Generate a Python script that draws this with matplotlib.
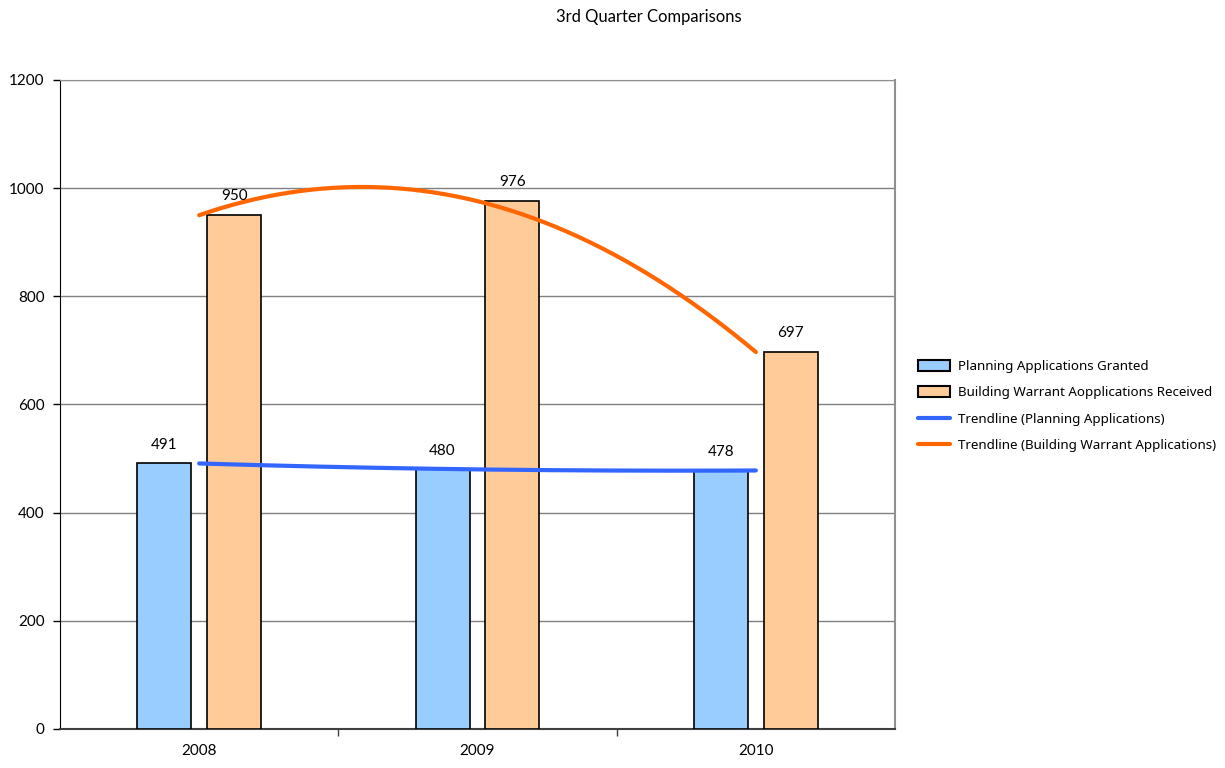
import numpy as np
import matplotlib
matplotlib.use("Agg")
from matplotlib import pyplot as plt
from matplotlib.patches import Patch
from matplotlib.lines import Line2D

years = ["2008", "2009", "2010"]
planning = [491, 480, 478]
warrants = [950, 976, 697]

label_font = ["Lato", "DejaVu Sans"]
legend_font = ["Noto Sans", "DejaVu Sans"]

fig = plt.figure(figsize=(12.25, 7.68), dpi=100)
ax = fig.add_axes([60 / 1225, 1 - 729 / 768, 835 / 1225, 649 / 768])

x = np.arange(len(years))
width = 0.194
off = 0.1255

ax.bar(x - off, planning, width, color="#99CCFF", edgecolor="black", linewidth=1.2, zorder=3)
ax.bar(x + off, warrants, width, color="#FFCC99", edgecolor="black", linewidth=1.2, zorder=3)

for xi, v in zip(x - off, planning):
    ax.text(xi, v + 22, str(v), ha="center", va="bottom", fontsize=11, family=label_font, zorder=5)
for xi, v in zip(x + off, warrants):
    ax.text(xi, v + 22, str(v), ha="center", va="bottom", fontsize=11, family=label_font, zorder=5)

# second order polynomial trendlines through each series
xs = np.linspace(0, 2, 200)
p_fit = np.polyval(np.polyfit(x, planning, 2), xs)
w_fit = np.polyval(np.polyfit(x, warrants, 2), xs)
ax.plot(xs, p_fit, color="#3366FF", linewidth=3, solid_capstyle="round", zorder=4)
ax.plot(xs, w_fit, color="#FF6600", linewidth=3, solid_capstyle="round", zorder=4)

ax.set_xlim(-0.5, 2.5)
ax.set_ylim(0, 1200)
ax.set_yticks(range(0, 1201, 200))
ax.set_xticks([0.5, 1.5])
ax.set_xticklabels([])
ax.tick_params(axis="x", length=5, width=1, direction="out", color="#404040")
ax.tick_params(axis="y", length=5, width=1, direction="out", color="black", pad=6)
for lab in ax.get_yticklabels():
    lab.set_family(label_font)
    lab.set_fontsize(11)
for xi, yr in zip(x, years):
    ax.text(xi, -40, yr, ha="center", va="center", fontsize=11, family=label_font)

ax.yaxis.grid(True, color="#808080", linewidth=1, zorder=0)
ax.set_axisbelow(True)
ax.spines["left"].set_color("black")
ax.spines["bottom"].set_color("#404040")
ax.spines["bottom"].set_linewidth(1.5)
ax.spines["top"].set_color("#909090")
ax.spines["right"].set_color("#909090")
ax.spines["right"].set_linewidth(1.5)

fig.text(649 / 1225, 1 - 17 / 768, "3rd Quarter Comparisons", ha="center", va="center",
         fontsize=12, family=label_font)

handles = [
    Patch(facecolor="#99CCFF", edgecolor="black", linewidth=1.5),
    Patch(facecolor="#FFCC99", edgecolor="black", linewidth=1.5),
    Line2D([], [], color="#3366FF", linewidth=3, solid_capstyle="round"),
    Line2D([], [], color="#FF6600", linewidth=3, solid_capstyle="round"),
]
names = [
    "Planning Applications Granted",
    "Building Warrant Aopplications Received",
    "Trendline (Planning Applications)",
    "Trendline (Building Warrant Applications)",
]
fig.legend(handles, names, loc="center left", bbox_to_anchor=(906 / 1225, 1 - 406 / 768),
           frameon=False, prop={"family": legend_font, "size": 9.6},
           handlelength=2.4, handleheight=0.9, handletextpad=0.6, labelspacing=1.0)

fig.savefig("out.png", dpi=100)
